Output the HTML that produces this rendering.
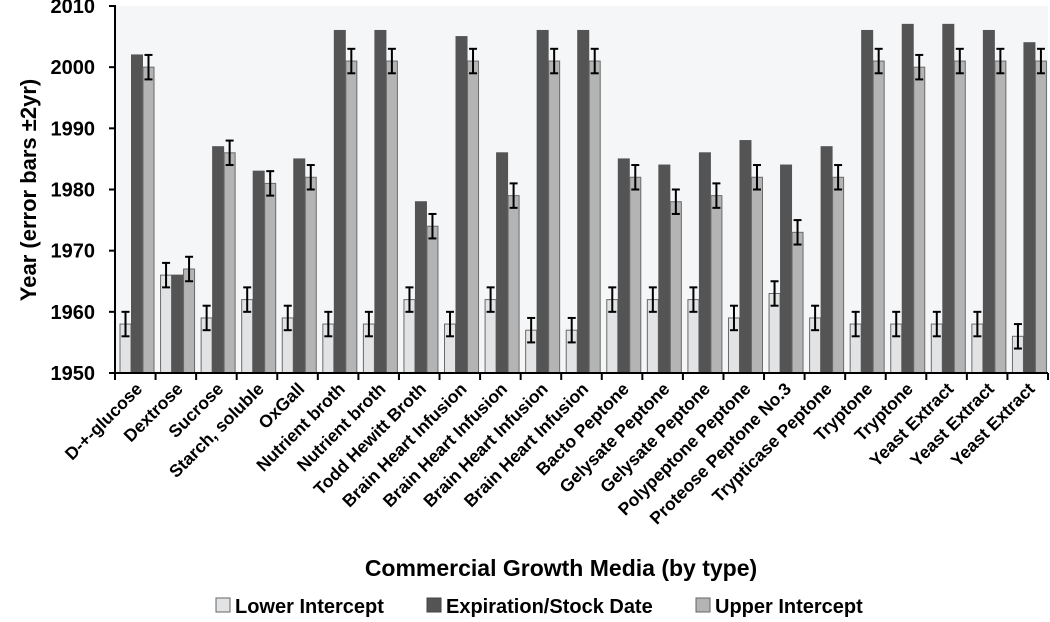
<!DOCTYPE html>
<html><head><meta charset="utf-8"><style>
body{margin:0;background:#fff;}
svg{display:block;font-family:"Liberation Sans",sans-serif;font-weight:bold;}
</style></head><body>
<svg id="chart" width="1050" height="622" viewBox="0 0 1050 622" xmlns="http://www.w3.org/2000/svg">
<rect x="115" y="6" width="933" height="368" fill="#f5f6f8"/>
<g id="bars"></g>
<g id="axes"></g>
<text transform="translate(36,190) rotate(-90)" text-anchor="middle" font-size="22" fill="#000">Year (error bars ±2yr)</text>
<text x="561" y="576" text-anchor="middle" font-size="23" fill="#000">Commercial Growth Media (by type)</text>
<g>
<g><rect x="216" y="598" width="14" height="14" fill="#e2e3e5" stroke="#666"/><text x="235" y="613" font-size="20">Lower Intercept</text></g>
<g><rect x="427" y="598" width="14" height="14" fill="#545454" stroke="#444"/><text x="446" y="613" font-size="20">Expiration/Stock Date</text></g>
<g><rect x="696" y="598" width="14" height="14" fill="#b4b4b4" stroke="#666"/><text x="715" y="613" font-size="20">Upper Intercept</text></g>
</g>
</svg>
<script>
const categories=["D-+-glucose","Dextrose","Sucrose","Starch, soluble","OxGall","Nutrient broth","Nutrient broth","Todd Hewitt Broth","Brain Heart Infusion","Brain Heart Infusion","Brain Heart Infusion","Brain Heart Infusion","Bacto Peptone","Gelysate Peptone","Gelysate Peptone","Polypeptone Peptone","Proteose Peptone No.3","Trypticase Peptone","Tryptone","Tryptone","Yeast Extract","Yeast Extract","Yeast Extract"];
const lowerVals=[1958,1966,1959,1962,1959,1958,1958,1962,1958,1962,1957,1957,1962,1962,1962,1959,1963,1959,1958,1958,1958,1958,1956];
const expVals=[2002,1966,1987,1983,1985,2006,2006,1978,2005,1986,2006,2006,1985,1984,1986,1988,1984,1987,2006,2007,2007,2006,2004];
const upperVals=[2000,1967,1986,1981,1982,2001,2001,1974,2001,1979,2001,2001,1982,1978,1979,1982,1973,1982,2001,2000,2001,2001,2001];
const errVal=2;
const yTicks=[1950,1960,1970,1980,1990,2000,2010];
const NS="http://www.w3.org/2000/svg";
const X0=115,X1=1048,Y0=373,Y1=6,YMIN=1950,YMAX=2010;
const gw=(X1-X0)/categories.length;
function y(v){return Y0-(v-YMIN)/(YMAX-YMIN)*(Y0-Y1);}
function x(i){return X0+i*gw;}
function mk(tag,attrs,parent){const e=document.createElementNS(NS,tag);for(const k in attrs)e.setAttribute(k,attrs[k]);parent.appendChild(e);return e;}
const bars=document.getElementById('bars'),axes=document.getElementById('axes');
const series=[[lowerVals,"#e2e3e5","#6a6a6a",true,"lower"],[expVals,"#545454","#545454",false,"expiration"],[upperVals,"#b4b4b4","#6a6a6a",true,"upper"]];
categories.forEach((c,i)=>{
  series.forEach((s,j)=>{
    const v=s[0][i],bx=x(i)+5+j*11.5,bw=11;
    const r=mk('rect',{x:bx,y:y(v),width:bw,height:Y0-y(v),fill:s[1],stroke:s[2],'stroke-width':1},bars);
    
    
    if(s[3]){
      const cx=bx+bw/2;
      const g=mk('g',{stroke:'#000','stroke-width':2},bars);
      
      
      mk('line',{x1:cx,x2:cx,y1:y(v+errVal),y2:y(v-errVal)},g);
      mk('line',{x1:cx-4,x2:cx+4,y1:y(v+errVal),y2:y(v+errVal)},g);
      mk('line',{x1:cx-4,x2:cx+4,y1:y(v-errVal),y2:y(v-errVal)},g);
    }
  });
  const t=mk('text',{transform:`translate(${x(i)+gw/2+8},390) rotate(-45)`,'text-anchor':'end','font-size':17.5,fill:'#000'},axes);
  t.textContent=c;
  
  
});
mk('line',{x1:X0,x2:X0,y1:Y1-1,y2:Y0+1,stroke:'#000','stroke-width':2},axes);
mk('line',{x1:X0,x2:X1,y1:Y0,y2:Y0,stroke:'#000','stroke-width':2},axes);
for(let i=0;i<=categories.length;i++){mk('line',{x1:x(i),x2:x(i),y1:Y0,y2:Y0+7,stroke:'#000','stroke-width':2},axes);}
yTicks.forEach(v=>{
  mk('line',{x1:X0-6,x2:X0,y1:y(v),y2:y(v),stroke:'#000','stroke-width':2},axes);
  const t=mk('text',{x:X0-20,y:y(v)+7,'text-anchor':'end','font-size':20,fill:'#000'},axes);
  t.textContent=v;
  
  
});
</script>
</body></html>
